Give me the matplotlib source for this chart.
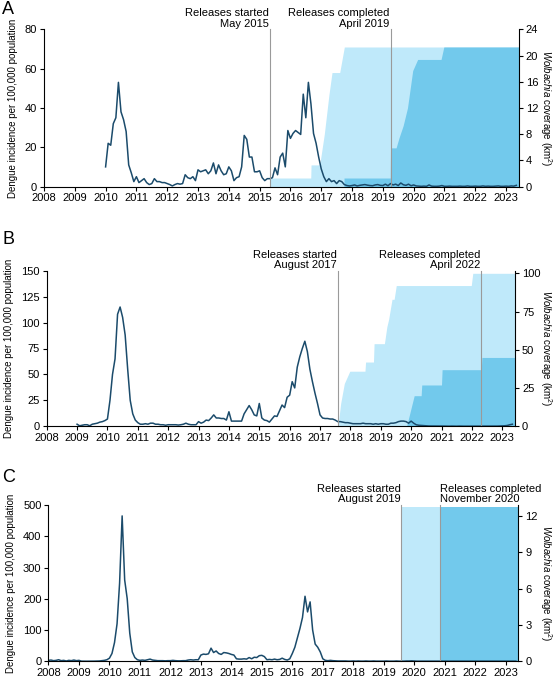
import numpy as np
import matplotlib
matplotlib.use('Agg')
import matplotlib.pyplot as plt
import matplotlib.transforms as mtransforms

plt.rcParams['font.family'] = ['Liberation Sans', 'DejaVu Sans']
plt.rcParams['mathtext.fontset'] = 'custom'
plt.rcParams['mathtext.rm'] = 'Liberation Sans'
plt.rcParams['mathtext.it'] = 'Liberation Sans:italic'

# --- dengue incidence, monthly ---
start_a = 2010.0
dengue_a = [10, 22, 21, 32, 35, 53, 38, 34, 28, 11, 7, 2.5,
            5, 2, 3, 4, 2, 1, 1.5, 4, 2.5, 2.5, 2, 2,
            1.5, 1, 0.3, 1, 1.5, 1.2, 1.5, 6, 4.5, 4, 5, 3,
            8.5, 7.5, 8, 8.5, 6.5, 8, 12, 6.5, 11, 8, 6, 6.5,
            10, 8, 3, 4.5, 5, 10, 26, 24, 15, 15, 7.5, 7.5,
            8, 4.5, 3, 4, 4, 4.5, 9.5, 6, 15, 17, 10, 28.5,
            24.5, 27, 28.5, 27.5, 26.5, 47, 35, 53, 42, 27, 22, 15,
            9, 5, 2.5, 4, 2.5, 3, 1.5, 3, 2.5, 1, 0.5, 0.3,
            0.5, 0.8, 0.3, 0.6, 0.8, 1.0, 0.7, 0.5, 0.4, 0.8, 1.0, 0.6,
            0.5, 1.2, 0.4, 1.5, 0.8, 1.2, 0.5, 1.8, 0.9, 0.6, 1.2, 0.4,
            0.8, 0.3, 0.2, 0.1, 0.2, 0.1, 0.8, 0.2, 0.1, 0.1, 0.2, 0.5,
            0.1, 0.1, 0.2, 0.1, 0.1, 0.1, 0.2, 0.1, 0.1, 0.3, 0.1, 0.1,
            0.2, 0.1, 0.1, 0.3, 0.1, 0.2, 0.1, 0.1, 0.2, 0.3, 0.1, 0.1,
            0.2, 0.1, 0.3, 0.2, 0.6]

start_b = 2009.0
dengue_b = [2, 0.5, 1, 1.5, 1.5, 0.5, 2, 2.5, 3, 4, 4.5, 5.5,
            7, 25, 50, 65, 108, 115, 105, 88, 55, 25, 12, 6,
            3.5, 2, 2, 2.5, 2, 3, 3, 2, 2, 1.5, 1.5, 1,
            1.5, 1.5, 1.5, 1.5, 1.2, 1.5, 2, 3, 2, 1.5, 1.5, 1.5,
            4.5, 3, 4, 6, 5.5, 8, 11, 8, 8, 7.5, 7.5, 6,
            14, 5, 5, 5, 5, 5, 12, 16, 20, 16, 11, 10,
            22, 8, 6, 5.5, 4, 7, 10, 9.5, 15, 20.5, 18, 28,
            30, 43, 37, 57, 67, 75, 82, 72, 55, 43, 32, 22,
            11, 8, 7.5, 7.5, 7, 7, 6, 4.5, 4.5, 4, 3.5, 3.5,
            3, 2.5, 2.5, 2.5, 2.5, 3, 2.5, 2.5, 2.5, 2, 2.5, 2,
            2.5, 2.5, 2, 2, 3, 3, 3.5, 4.5, 5, 5, 4.5, 3,
            5, 3, 1.5, 1, 0.8, 0.5, 0.5, 0.3, 0.3, 0.3, 0.2, 0.2,
            0.2, 0.2, 0.1, 0.1, 0.2, 0.1, 0.1, 0.2, 0.1, 0.1, 0.1, 0.1,
            0.1, 0.2, 0.1, 0.1, 0.1, 0.2, 0.1, 0.1, 0.2, 0.1, 0.2, 0.3,
            0.3, 0.5, 0.8, 1.5, 2]

start_c = 2008.0
dengue_c = [3, 4, 2, 3, 5, 2, 3, 1, 3, 2, 4, 2,
            3, 0.5, 0.3, 0.3, 0.3, 0.5, 0.5, 0.8, 1, 2, 3, 5,
            10, 25, 60, 120, 250, 465, 260, 200, 90, 30, 12, 5,
            3, 4, 3, 5, 7, 4, 3, 2, 2, 2, 1.5, 2,
            2, 3, 2, 1.5, 1.5, 2, 2, 4, 5, 4, 5, 5,
            20, 23, 22, 24, 42, 28, 33, 25, 22, 28, 27, 25,
            22, 20, 8, 7, 7, 8, 7, 12, 8, 13, 12, 18,
            19, 15, 5, 6, 5, 7, 5, 6, 10, 6, 4, 8,
            25, 45, 75, 105, 140, 208, 158, 190, 100, 55, 45, 30,
            8, 3, 2, 3, 2, 1.5, 1, 1, 1, 1, 0.5, 0.5,
            1, 0.5, 1, 0.5, 0.5, 1, 0.5, 0.5, 1, 0.5, 0.5, 0.5,
            0.5, 1, 0.5, 0.5, 0.5, 1, 0.5, 0.5, 0.5, 1, 1, 1.5,
            1, 0.5, 0.5, 0.5, 0.5, 0.5, 0.5, 0.5, 0.5, 0.5, 0.5, 0.5,
            0.5, 0.5, 0.5, 0.5, 0.5, 0.5, 0.5, 0.5, 0.5, 0.5, 0.5, 0.5,
            0.5, 0.5, 0.5, 0.5, 0.5, 0.5, 0.5, 0.5, 0.5, 0.5, 0.5, 0.5,
            0.5, 0.5, 0.5, 0.5, 0.5]

# --- Wolbachia coverage (km2): total released area (light) and established (dark) ---
cov_total_a_x = [2015.33, 2016.66, 2016.67, 2016.95, 2017.1, 2017.25, 2017.35, 2017.6, 2017.75, 2023.42]
cov_total_a_y = [1.3, 1.3, 3.3, 3.3, 8, 14, 17.4, 17.4, 21.3, 21.3]
cov_est_a_x = [2017.74, 2019.24, 2019.25, 2019.43, 2019.53, 2019.66, 2019.8, 2019.97, 2020.13, 2020.89, 2020.98, 2023.42]
cov_est_a_y = [1.3, 1.3, 5.9, 5.9, 7.5, 9.3, 12, 17.7, 19.4, 19.4, 21.3, 21.3]

cov_total_b_x = [2017.59, 2017.68, 2017.8, 2017.98, 2018.48, 2018.5, 2018.76, 2018.78, 2019.12,
                 2019.2, 2019.26, 2019.37, 2019.44, 2019.51, 2021.98, 2022.03, 2023.42]
cov_total_b_y = [0, 15, 28, 36, 36, 42, 42, 54, 54, 65, 70, 83, 83, 92, 92, 100, 100]
cov_est_b_x = [2019.85, 2020.0, 2020.1, 2020.33, 2020.35, 2021.0, 2021.02, 2022.31, 2022.33, 2023.42]
cov_est_b_y = [0, 12, 20, 20, 27, 27, 37, 37, 45, 45]

cov_total_c_x = [2019.58, 2023.42]
cov_total_c_y = [12.7, 12.7]
cov_est_c_x = [2020.83, 2023.42]
cov_est_c_y = [12.7, 12.7]

release_start = [2015.33, 2017.58, 2019.58]
release_end = [2019.25, 2022.30, 2020.83]
start_labels = ['Releases started\nMay 2015', 'Releases started\nAugust 2017', 'Releases started\nAugust 2019']
end_labels = ['Releases completed\nApril 2019', 'Releases completed\nApril 2022', 'Releases completed\nNovember 2020']

years = list(range(2008, 2024))

line_col = '#1b4b6b'
light_col = '#bfe9fa'
dark_col = '#72c9ec'
rel_col = '#9a9a9a'

fig = plt.figure(figsize=(5.54, 6.8), dpi=100)

panels = [
    dict(pos=[0.0794, 0.7257, 0.8574, 0.2312], start=start_a, y=dengue_a, ylim=80, yt=[0, 20, 40, 60, 80],
         rlim=24, rt=[0, 4, 8, 12, 16, 20, 24], tot=(cov_total_a_x, cov_total_a_y), est=(cov_est_a_x, cov_est_a_y),
         label='A', ly=0.998, end_ha='right'),
    dict(pos=[0.0843, 0.3731, 0.8453, 0.2288], start=start_b, y=dengue_b, ylim=150, yt=[0, 25, 50, 75, 100, 125, 150],
         rlim=101.7, rt=[0, 25, 50, 75, 100], tot=(cov_total_b_x, cov_total_b_y), est=(cov_est_b_x, cov_est_b_y),
         label='B', ly=0.66, end_ha='right'),
    dict(pos=[0.0875, 0.0275, 0.8484, 0.2299], start=start_c, y=dengue_c, ylim=500, yt=[0, 100, 200, 300, 400, 500],
         rlim=12.9, rt=[0, 3, 6, 9, 12], tot=(cov_total_c_x, cov_total_c_y), est=(cov_est_c_x, cov_est_c_y),
         label='C', ly=0.31, end_ha='left'),
]

for i, p in enumerate(panels):
    ax = fig.add_axes(p['pos'])
    ax2 = ax.twinx()

    # coverage on the right axis, behind the incidence line
    ax2.fill_between(p['tot'][0], 0, p['tot'][1], color=light_col, linewidth=0)
    ax2.fill_between(p['est'][0], 0, p['est'][1], color=dark_col, linewidth=0)
    ax2.set_ylim(0, p['rlim'])
    ax2.set_yticks(p['rt'])
    ax.set_zorder(ax2.get_zorder() + 1)
    ax.patch.set_visible(False)

    x = p['start'] + np.arange(len(p['y'])) / 12.0
    ax.plot(x, p['y'], color=line_col, linewidth=1.1)

    trans = mtransforms.blended_transform_factory(ax.transData, ax.transAxes)
    for xv in (release_start[i], release_end[i]):
        ax.plot([xv, xv], [0, 1.0], transform=trans, color=rel_col, linewidth=0.8, clip_on=False)
    ax.text(release_start[i] - 0.03, 1.004, start_labels[i], transform=trans, ha='right', va='bottom',
            fontsize=8, linespacing=1.05, multialignment='right')
    if p['end_ha'] == 'right':
        ax.text(release_end[i] - 0.03, 1.004, end_labels[i], transform=trans, ha='right', va='bottom',
                fontsize=8, linespacing=1.05, multialignment='right')
    else:
        ax.text(release_end[i] + 0.03, 1.004, end_labels[i], transform=trans, ha='left', va='bottom',
                fontsize=8, linespacing=1.05, multialignment='left')

    ax.set_xlim(2008, 2023.42)
    ax.set_ylim(0, p['ylim'])
    ax.set_yticks(p['yt'])
    ax.set_xticks(years)
    ax.set_xticklabels([str(y) for y in years])
    ax.set_ylabel('Dengue incidence per 100,000 population', fontsize=7, labelpad=5)
    ax2.set_ylabel(r'$\mathit{Wolbachia}$ coverage (km$^2$)', fontsize=7, rotation=270,
                   va='center', ha='center')
    ax2.yaxis.set_label_coords((546 / 554 - p['pos'][0]) / p['pos'][2], 0.5)

    for a in (ax, ax2):
        a.spines['top'].set_visible(False)
        for s in ('left', 'right', 'bottom'):
            a.spines[s].set_linewidth(0.8)
        a.tick_params(direction='out', length=3, width=0.8, labelsize=8, pad=2)
    ax.spines['right'].set_visible(False)
    ax2.spines['left'].set_visible(False)
    ax2.spines['bottom'].set_visible(False)

    fig.text(0.004, p['ly'], p['label'], fontsize=13, va='top', ha='left')

fig.savefig('out.png', dpi=100)
